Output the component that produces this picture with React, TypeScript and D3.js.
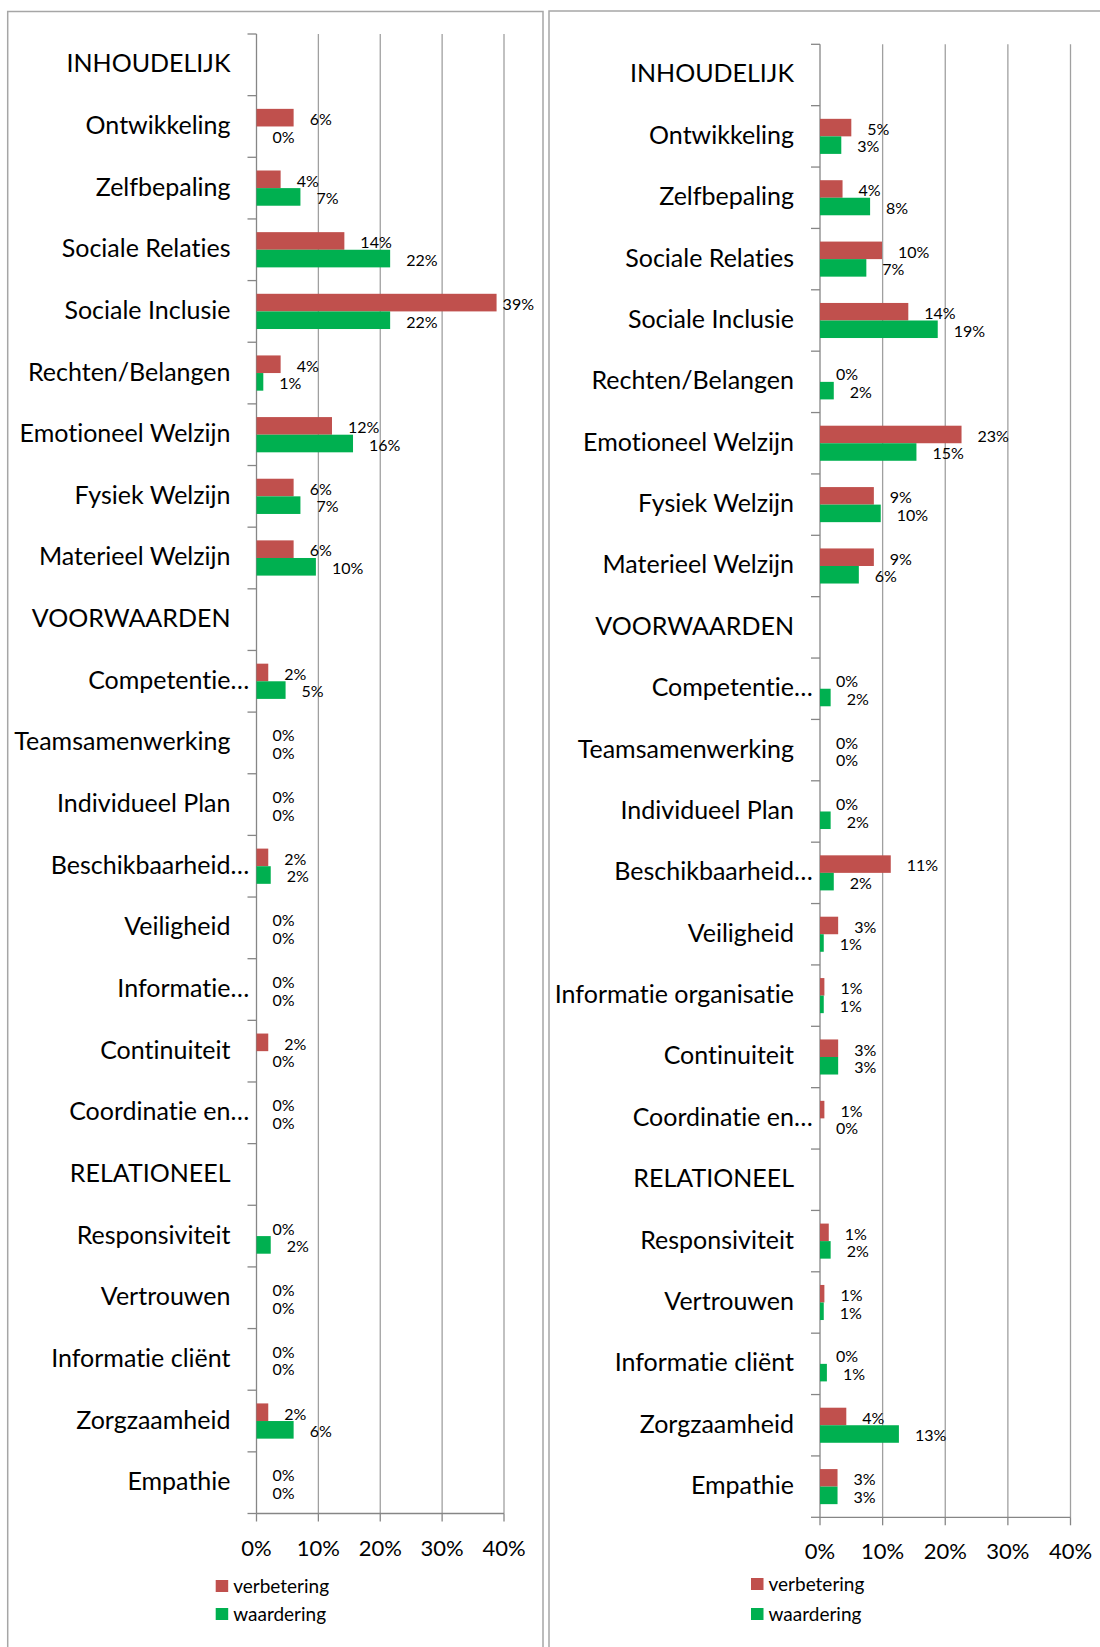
import * as d3 from "d3";
import { useRef, useEffect } from "react";

// categorieen (links en rechts verschillen alleen in "Informatie organisatie")
const categoriesLinks = [
  "INHOUDELIJK", "Ontwikkeling", "Zelfbepaling", "Sociale Relaties", "Sociale Inclusie",
  "Rechten/Belangen", "Emotioneel Welzijn", "Fysiek Welzijn", "Materieel Welzijn",
  "VOORWAARDEN", "Competentie…", "Teamsamenwerking", "Individueel Plan", "Beschikbaarheid…",
  "Veiligheid", "Informatie…", "Continuiteit", "Coordinatie en…",
  "RELATIONEEL", "Responsiviteit", "Vertrouwen", "Informatie cliënt", "Zorgzaamheid", "Empathie",
];
const categoriesRechts = [
  "INHOUDELIJK", "Ontwikkeling", "Zelfbepaling", "Sociale Relaties", "Sociale Inclusie",
  "Rechten/Belangen", "Emotioneel Welzijn", "Fysiek Welzijn", "Materieel Welzijn",
  "VOORWAARDEN", "Competentie…", "Teamsamenwerking", "Individueel Plan", "Beschikbaarheid…",
  "Veiligheid", "Informatie organisatie", "Continuiteit", "Coordinatie en…",
  "RELATIONEEL", "Responsiviteit", "Vertrouwen", "Informatie cliënt", "Zorgzaamheid", "Empathie",
];

// percentages, null = kopregel zonder balk
const verbeteringLinks = [null, 6.0, 3.9, 14.2, 38.8, 3.9, 12.2, 6.0, 6.0, null, 1.9, 0, 0, 1.9, 0, 0, 1.9, 0, null, 0, 0, 0, 1.9, 0];
const waarderingLinks = [null, 0, 7.1, 21.6, 21.6, 1.1, 15.6, 7.1, 9.6, null, 4.7, 0, 0, 2.3, 0, 0, 0, 0, null, 2.3, 0, 0, 6.0, 0];
const verbeteringRechts = [null, 5.0, 3.6, 9.9, 14.1, 0, 22.6, 8.6, 8.6, null, 0, 0, 0, 11.3, 2.9, 0.7, 2.9, 0.7, null, 1.4, 0.7, 0, 4.2, 2.8];
const waarderingRechts = [null, 3.4, 8.0, 7.4, 18.8, 2.2, 15.4, 9.7, 6.2, null, 1.7, 0, 1.7, 2.2, 0.6, 0.6, 2.9, 0, null, 1.7, 0.6, 1.1, 12.6, 2.8];

const series = ["verbetering", "waardering"];
const kleuren = ["#C0504D", "#00B050"];
const tickValues = [0, 10, 20, 30, 40];

const FONT = "Lato, 'Open Sans', sans-serif";

function drawPanel(svg, p) {
  const g = svg.append("g");
  const cats = p.cats;
  const values = [p.verb, p.waard];

  g.append("rect")
    .attr("x", p.box[0]).attr("y", p.box[1])
    .attr("width", p.box[2] - p.box[0]).attr("height", 1800)
    .attr("fill", "none").attr("stroke", "#A6A6A6").attr("stroke-width", 1.5);

  const x = d3.scaleLinear().domain([0, 40]).range(p.xr);
  const y = d3.scaleBand().domain(cats).range(p.yr);
  const ySub = d3.scaleBand().domain(series).range([0, y.bandwidth()]).paddingOuter(0.75);
  const x0 = x(0);

  // gridlijnen
  g.selectAll(".grid")
    .data(tickValues.slice(1))
    .enter()
    .append("line")
    .attr("x1", (d) => x(d)).attr("x2", (d) => x(d))
    .attr("y1", p.yr[0]).attr("y2", p.yr[1])
    .attr("stroke", "#A0A0A0").attr("stroke-width", 1.3);

  // categorie-as
  g.append("line")
    .attr("x1", x0).attr("x2", x0).attr("y1", p.yr[0]).attr("y2", p.yr[1])
    .attr("stroke", "#868686").attr("stroke-width", 1.3);
  g.selectAll(".ctick")
    .data(d3.range(cats.length + 1))
    .enter()
    .append("line")
    .attr("x1", x0 - 9).attr("x2", x0)
    .attr("y1", (i) => p.yr[0] + i * y.step()).attr("y2", (i) => p.yr[0] + i * y.step())
    .attr("stroke", "#868686").attr("stroke-width", 1.3);

  // waarde-as
  g.append("line")
    .attr("x1", x0).attr("x2", x(40)).attr("y1", p.yr[1]).attr("y2", p.yr[1])
    .attr("stroke", "#868686").attr("stroke-width", 1.3);
  g.selectAll(".vtick")
    .data(tickValues)
    .enter()
    .append("line")
    .attr("x1", (d) => x(d)).attr("x2", (d) => x(d))
    .attr("y1", p.yr[1]).attr("y2", p.yr[1] + 8)
    .attr("stroke", "#868686").attr("stroke-width", 1.3);
  g.selectAll(".vlabel")
    .data(tickValues)
    .enter()
    .append("text")
    .attr("x", (d) => x(d)).attr("y", p.yr[1] + 42)
    .attr("text-anchor", "middle")
    .attr("font-family", FONT).attr("font-size", 22).attr("fill", "#000")
    .text((d) => d + "%");

  // categorielabels
  cats.forEach((c) => {
    const cy = y(c) + y.bandwidth() / 2 + 7.5;
    const afgekapt = c.endsWith("…");
    g.append("text")
      .attr("x", x0 - 26).attr("y", cy)
      .attr("text-anchor", "end")
      .attr("font-family", FONT).attr("font-size", 25).attr("fill", "#000")
      .text(afgekapt ? c.slice(0, -1) : c);
    if (afgekapt) {
      g.append("text")
        .attr("x", x0 - 26).attr("y", cy)
        .attr("font-family", FONT).attr("font-size", 25).attr("fill", "#000")
        .text("…");
    }
  });

  // balken + labels
  series.forEach((s, si) => {
    cats.forEach((c, ci) => {
      const v = values[si][ci];
      if (v === null) return;
      const by = y(c) + ySub(s);
      g.append("rect")
        .attr("x", x0).attr("y", by)
        .attr("width", x(v) - x0).attr("height", ySub.bandwidth())
        .attr("fill", kleuren[si]);
      const t = g.append("text")
        .attr("x", x(v) + 16).attr("y", by + ySub.bandwidth() / 2 + 7.3)
        .attr("font-family", FONT).attr("font-size", 16).attr("fill", "#000")
        .text(Math.round(v) + "%");
      const w = t.node().getComputedTextLength();
      const limit = p.box[2] - 9;
      if (x(v) + 16 + w > limit) t.attr("x", limit - w);
    });
  });

  // legenda
  series.forEach((s, si) => {
    g.append("rect")
      .attr("x", p.legendX).attr("y", p.legendY[si])
      .attr("width", 12.5).attr("height", 12)
      .attr("fill", kleuren[si]);
    g.append("text")
      .attr("x", p.legendX + 17.5).attr("y", p.legendY[si] + 13)
      .attr("font-family", FONT).attr("font-size", 19).attr("fill", "#000")
      .text(s);
  });
}

export default function App() {
  const ref = useRef(null);

  useEffect(() => {
    document.body.style.margin = "0";
    const root = d3.select(ref.current);
    root.selectAll("*").remove();
    const svg = root.append("svg")
      .attr("width", 1100)
      .attr("height", 1647)
      .style("display", "block")
      .style("background", "#fff")
      .style("font-variant-ligatures", "none")
      .style("font-feature-settings", "'liga' 0, 'clig' 0");

    drawPanel(svg, {
      cats: categoriesLinks, verb: verbeteringLinks, waard: waarderingLinks,
      box: [7.7, 11.5, 543], xr: [256.5, 504], yr: [34, 1513.5],
      legendX: 215.7, legendY: [1580, 1608],
    });
    drawPanel(svg, {
      cats: categoriesRechts, verb: verbeteringRechts, waard: waarderingRechts,
      box: [549, 11, 1110], xr: [820, 1070.5], yr: [44.3, 1517.3],
      legendX: 751, legendY: [1578, 1608],
    });
  }, []);

  return <div ref={ref}></div>;
}
